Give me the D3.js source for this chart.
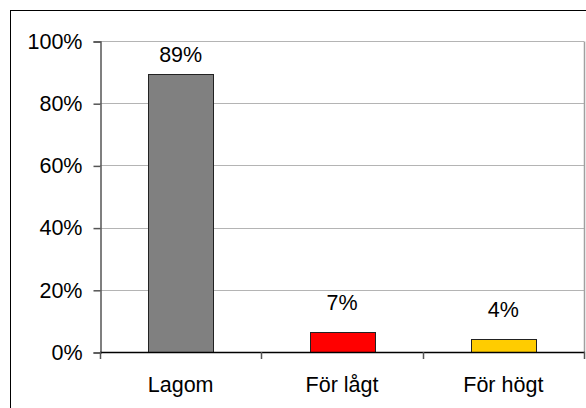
<!DOCTYPE html>
<html>
<head>
<meta charset="utf-8">
<script src="https://cdn.jsdelivr.net/npm/d3@7"></script>
<style>
  html, body { margin: 0; padding: 0; background: #fff; }
  svg { display: block; }
  text { font-family: "Liberation Sans", Arial, sans-serif; fill: #000; }
</style>
</head>
<body>
<svg id="chart" width="586" height="408"></svg>
<script>
const categories = ["Lagom", "För lågt", "För högt"];
const values = [0.893, 0.065, 0.043];
const valueLabels = ["89%", "7%", "4%"];
const barColors = ["#808080", "#ff0000", "#ffcc00"];
const yTicks = [0, 0.2, 0.4, 0.6, 0.8, 1.0];

const svg = d3.select("#chart");
const W = 586, H = 408;
const plot = { left: 100, right: 584, top: 41, bottom: 352 };
const fontSize = 21.5;

// outer frame
svg.append("rect")
  .attr("x", 10.5).attr("y", 10.5)
  .attr("width", W + 20).attr("height", H + 20)
  .attr("fill", "#fff").attr("stroke", "#000").attr("stroke-width", 1);

const x = d3.scaleBand().domain(categories)
  .range([plot.left, plot.right]).paddingInner(0.6).paddingOuter(0.3);
const y = d3.scaleLinear().domain([0, 1]).range([plot.bottom, plot.top]);

// gridlines
svg.append("g").selectAll("line").data(yTicks.filter(d => d > 0)).join("line")
  .attr("x1", plot.left).attr("x2", plot.right)
  .attr("y1", d => Math.round(y(d)) + 0.5).attr("y2", d => Math.round(y(d)) + 0.5)
  .attr("stroke", "#b4b4b4").attr("stroke-width", 1);

// plot area right border
svg.append("line")
  .attr("x1", plot.right + 0.5).attr("x2", plot.right + 0.5)
  .attr("y1", Math.round(y(1)) + 0.5).attr("y2", plot.bottom)
  .attr("stroke", "#a0a0a0").attr("stroke-width", 1.5);

// bars
svg.append("g").selectAll("rect").data(categories).join("rect")
  .attr("x", d => Math.round(x(d)) + 0.5)
  .attr("y", (d, i) => Math.round(y(values[i])) + 0.5)
  .attr("width", Math.round(x.bandwidth()))
  .attr("height", (d, i) => Math.round(y(0)) - Math.round(y(values[i])))
  .attr("fill", (d, i) => barColors[i])
  .attr("stroke", "#222").attr("stroke-width", 1);

// value labels
svg.append("g").selectAll("text").data(categories).join("text")
  .attr("x", d => x(d) + x.bandwidth() / 2)
  .attr("y", (d, i) => Math.max(y(values[i]) - 22, plot.top + 21))
  .attr("text-anchor", "middle")
  .style("font-size", fontSize + "px")
  .text((d, i) => valueLabels[i]);

// y axis
const yAxis = d3.axisLeft(y).tickValues(yTicks)
  .tickFormat(d3.format(".0%")).tickSize(7).tickPadding(11);
const gy = svg.append("g").attr("transform", `translate(${plot.left + 0.5},0.5)`).call(yAxis);
gy.select(".domain").attr("stroke", "#555").attr("stroke-width", 1.5);
gy.selectAll(".tick line").attr("stroke", "#555").attr("stroke-width", 1.5);
gy.selectAll(".tick text").style("font-size", fontSize + "px")
  .style("font-family", '"Liberation Sans", Arial, sans-serif').attr("fill", "#000");

// x axis
const boundaries = [plot.left, ...categories.map(c => x(c) + x.bandwidth() / 2 + x.step() / 2)];
const gx = svg.append("g");
gx.append("line")
  .attr("x1", plot.left).attr("x2", plot.right + 1)
  .attr("y1", plot.bottom + 0.5).attr("y2", plot.bottom + 0.5)
  .attr("stroke", "#000").attr("stroke-width", 1.5);
gx.selectAll("line.tk").data(boundaries).join("line").attr("class", "tk")
  .attr("x1", d => Math.round(d) + 0.5).attr("x2", d => Math.round(d) + 0.5)
  .attr("y1", plot.bottom).attr("y2", plot.bottom + 7)
  .attr("stroke", "#555").attr("stroke-width", 1.5);
gx.selectAll("text").data(categories).join("text")
  .attr("x", d => x(d) + x.bandwidth() / 2)
  .attr("y", plot.bottom + 40)
  .attr("text-anchor", "middle")
  .style("font-size", fontSize + "px")
  .text(d => d);
</script>
</body>
</html>
